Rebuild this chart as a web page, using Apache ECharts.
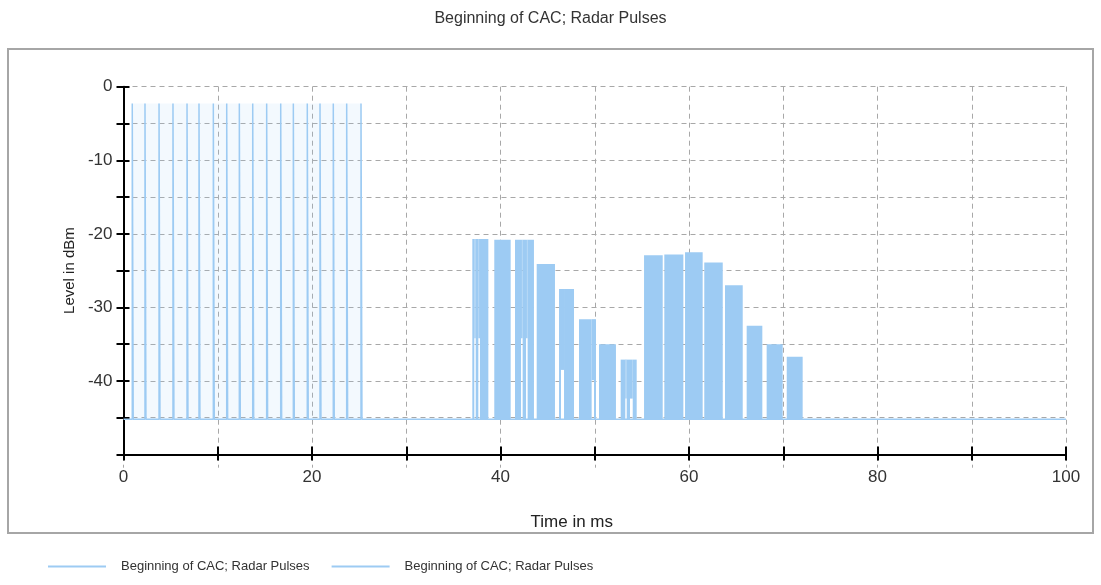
<!DOCTYPE html>
<html>
<head>
<meta charset="utf-8">
<script src="https://cdn.jsdelivr.net/npm/echarts@6/dist/echarts.min.js"></script>
<style>
  html, body { margin: 0; padding: 0; background: #fff; }
  #chart { width: 1101px; height: 585px; }
</style>
</head>
<body>
<div id="chart"></div>
<script>
// 数据
const seriesName = 'Beginning of CAC; Radar Pulses';
const baseLevel = -45.2;

// 左侧窄脉冲 (ms / dBm)
const spikeTimes = [0.93, 2.28, 3.77, 5.25, 6.74, 8.01, 9.53, 10.95, 12.29,
  13.71, 15.19, 16.68, 18.02, 19.5, 20.85, 22.26, 23.68, 25.2];
const spikeTops = [-2.3, -2.3, -2.3, -2.3, -2.3, -2.3, -2.3, -2.3, -2.3,
  -2.3, -2.3, -2.3, -2.3, -2.3, -2.3, -2.3, -2.3, -2.3];

// 中间脉冲群
const blockStart = [37.01, 39.34, 41.54, 43.84, 46.21, 48.33, 50.45, 52.75,
  55.23, 57.38, 59.58, 61.62, 63.82, 66.12, 68.24, 70.37];
const blockEnd = [38.71, 41.08, 43.55, 45.78, 47.8, 50.13, 52.25, 54.45,
  57.21, 59.4, 61.45, 63.58, 65.7, 67.78, 69.94, 72.06];
const blockTop = [-20.7, -20.8, -20.8, -24.1, -27.5, -31.6, -35.0, -37.1,
  -22.9, -22.8, -22.5, -23.9, -27.0, -32.5, -35.0, -36.7];

// 脉冲群底部的空隙
const slitStart = [37.22, 37.65, 42.18, 42.71, 46.42, 49.67, 53.24, 53.74];
const slitEnd = [37.37, 37.82, 42.35, 42.88, 46.74, 49.92, 53.39, 54.03];
const slitLow = [-34.2, -34.2, -34.2, -34.2, -38.5, -39.9, -42.4, -42.4];

// ------------------------- 数据处理 -------------------------
const spikeData = [[0, baseLevel]];
spikeTimes.forEach((t, i) => {
  spikeData.push([t, baseLevel], [t, spikeTops[i]], [t + 0.1, spikeTops[i]], [t + 0.1, baseLevel]);
});
spikeData.push([100, baseLevel]);

const segments = [];
blockStart.forEach((s, i) => {
  const e = blockEnd[i];
  const top = blockTop[i];
  let cur = s;
  slitStart.forEach((ss, j) => {
    if (ss >= s && ss < e) {
      segments.push([cur, ss, baseLevel, top]);
      segments.push([ss, slitEnd[j], slitLow[j], top]);
      cur = slitEnd[j];
    }
  });
  segments.push([cur, e, baseLevel, top]);
});

const lineColor = '#9dcbf3';
const gridColor = '#a8a8a8';
const fontFamily = 'Liberation Sans, Arial, sans-serif';

const chart = echarts.init(document.getElementById('chart'));
chart.setOption({
  animation: false,
  textStyle: { fontFamily },
  title: {
    text: seriesName,
    left: 'center',
    top: 6,
    textStyle: { fontSize: 16, fontWeight: 'normal', color: '#333', fontFamily }
  },
  legend: {
    left: 43,
    top: 555,
    itemGap: 22,
    itemWidth: 58,
    itemHeight: 2,
    icon: 'rect',
    textStyle: { fontSize: 13, color: '#333', padding: [0, 0, 0, 10] },
    data: [seriesName, seriesName + ' ']
  },
  graphic: [{
    type: 'rect',
    shape: { x: 8, y: 49, width: 1085, height: 484 },
    style: { fill: 'none', stroke: '#a6a6a6', lineWidth: 2 },
    silent: true,
    z: -10
  }],
  grid: [
    { left: 123.5, top: 86.7, width: 942.5, height: 367.8 },
    { left: 123.5, top: 86.7, width: 942.5, height: 381 }
  ],
  xAxis: [
    {
      type: 'value', gridIndex: 0, min: 0, max: 100, interval: 10, position: 'bottom',
      name: 'Time in ms', nameLocation: 'middle', nameGap: 59,
      nameTextStyle: { fontSize: 17, color: '#222', padding: [0, 46, 0, 0] },
      axisLine: { onZero: false, lineStyle: { color: '#000', width: 2 } },
      axisTick: { length: 6, lineStyle: { color: '#000', width: 2 } },
      axisLabel: {
        fontSize: 17, color: '#333', margin: 14,
        formatter: v => (v % 20 === 0 ? String(v) : '')
      },
      splitLine: { show: false }
    },
    {
      type: 'value', gridIndex: 0, min: 0, max: 100, interval: 10, position: 'bottom',
      axisLine: { show: false, onZero: false },
      axisTick: { inside: true, length: 8, lineStyle: { color: '#000', width: 2 } },
      axisLabel: { show: false },
      splitLine: { show: false }
    },
    {
      type: 'value', gridIndex: 1, min: 0, max: 100, interval: 10,
      axisLine: { show: false, onZero: false }, axisTick: { show: false }, axisLabel: { show: false },
      splitLine: { lineStyle: { color: gridColor, type: [5, 4], width: 1 } }
    }
  ],
  yAxis: [
    {
      type: 'value', gridIndex: 0, min: -50, max: 0, interval: 5, position: 'left',
      name: 'Level in dBm', nameLocation: 'middle', nameGap: 30,
      nameTextStyle: { fontSize: 15, color: '#222' },
      axisLine: { onZero: false, lineStyle: { color: '#000', width: 2 } },
      axisTick: { length: 7, lineStyle: { color: '#000', width: 2 } },
      axisLabel: {
        fontSize: 17, color: '#333', margin: 11,
        formatter: v => (v % 10 === 0 && v !== -50 ? String(v) : '')
      },
      splitLine: { lineStyle: { color: gridColor, type: [5, 4], width: 1 } }
    },
    {
      type: 'value', gridIndex: 0, min: -50, max: 0, interval: 5, position: 'left',
      axisLine: { show: false, onZero: false },
      axisTick: { inside: true, length: 6, lineStyle: { color: '#000', width: 2 } },
      axisLabel: { show: false },
      splitLine: { show: false }
    },
    {
      type: 'value', gridIndex: 1, min: -50, max: 0,
      axisLine: { show: false, onZero: false }, axisTick: { show: false }, axisLabel: { show: false },
      splitLine: { show: false }
    }
  ],
  series: [
    {
      name: seriesName,
      type: 'line',
      xAxisIndex: 0,
      yAxisIndex: 0,
      data: spikeData,
      symbol: 'none',
      lineStyle: { color: lineColor, width: 1.5 },
      itemStyle: { color: lineColor },
      markArea: {
        silent: true,
        itemStyle: { color: 'rgba(157, 203, 243, 0.12)' },
        data: [[{ coord: [spikeTimes[0], spikeTops[0]] },
          { coord: [spikeTimes[spikeTimes.length - 1], baseLevel] }]]
      }
    },
    {
      name: seriesName + ' ',
      type: 'custom',
      xAxisIndex: 0,
      yAxisIndex: 0,
      itemStyle: { color: lineColor },
      encode: { x: [0, 1], y: [2, 3] },
      data: segments,
      renderItem: (params, api) => {
        const p0 = api.coord([api.value(0), api.value(3)]);
        const p1 = api.coord([api.value(1), api.value(2)]);
        return {
          type: 'rect',
          shape: { x: p0[0], y: p0[1], width: p1[0] - p0[0], height: p1[1] - p0[1] },
          style: { fill: lineColor }
        };
      }
    }
  ]
});
</script>
</body>
</html>
